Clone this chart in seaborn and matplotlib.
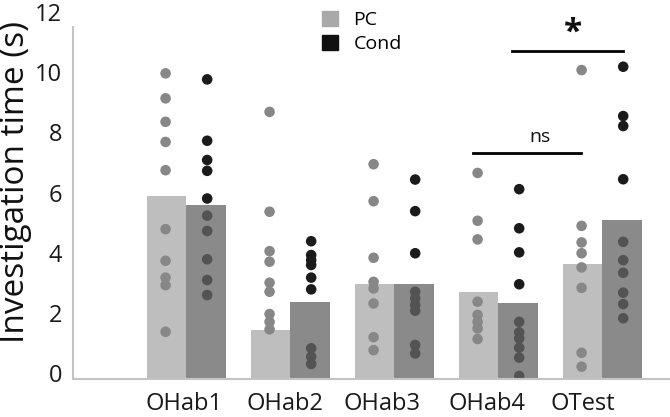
import numpy as np
import pandas as pd
import matplotlib
matplotlib.use("Agg")
import matplotlib.pyplot as plt
import matplotlib.transforms as mtransforms
import seaborn as sns
from matplotlib.patches import Patch

# sessions and groups
sessions = ["OHab1", "OHab2", "OHab3", "OHab4", "OTest"]
groups = ["PC", "Cond"]

# bar heights (s)
bar_pc = [6.09, 1.63, 3.16, 2.90, 3.82]
bar_cond = [5.80, 2.55, 3.16, 2.51, 5.28]

# individual animals (s)
pc_ohab1 = [10.16, 9.33, 8.55, 7.88, 6.94, 4.98, 3.93, 3.37, 3.12, 1.57]
pc_ohab2 = [8.88, 5.56, 4.25, 3.90, 3.20, 2.90, 2.16, 1.90, 1.65]
pc_ohab3 = [7.14, 5.91, 4.03, 3.23, 3.01, 2.51, 1.39, 0.96]
pc_ohab4 = [6.85, 5.26, 4.64, 2.57, 2.13, 1.90, 1.68, 1.33]
pc_otest = [10.27, 5.09, 4.54, 4.18, 3.71, 3.03, 0.87, 0.41]

cond_ohab1 = [9.96, 7.92, 7.28, 6.92, 6.00, 5.43, 4.92, 3.98, 3.29, 2.79]
cond_ohab2 = [4.58, 4.12, 3.95, 3.79, 3.37, 2.98, 1.02, 0.74, 0.50]
cond_ohab3 = [6.63, 5.58, 4.18, 2.90, 2.68, 2.46, 2.27, 1.13, 0.85]
cond_ohab4 = [6.31, 5.01, 4.21, 3.15, 1.90, 1.55, 1.35, 1.04, 0.71, 0.10]
cond_otest = [10.38, 8.74, 8.41, 6.64, 4.56, 3.95, 3.53, 2.87, 2.49, 2.02]

pc_points = [pc_ohab1, pc_ohab2, pc_ohab3, pc_ohab4, pc_otest]
cond_points = [cond_ohab1, cond_ohab2, cond_ohab3, cond_ohab4, cond_otest]

# build tables
bars = pd.DataFrame({
    "session": sessions * 2,
    "group": ["PC"] * 5 + ["Cond"] * 5,
    "time": bar_pc + bar_cond,
})

rows = []
for grp, pts in zip(groups, [pc_points, cond_points]):
    for s, vals in zip(sessions, pts):
        for v in vals:
            rows.append((s, grp, v))
points = pd.DataFrame(rows, columns=["session", "group", "time"])

font = "Open Sans"
plt.rcParams["font.family"] = [font, "DejaVu Sans"]

fig = plt.figure(figsize=(6.7, 4.17), dpi=100)
ax = fig.add_axes([73 / 670, 1 - 379 / 417, 1 - 73 / 670, 361 / 417])

# Cond points sit under the (semi transparent) Cond bars
sns.stripplot(data=points[points["group"] == "Cond"], x="session", y="time",
              hue="group", hue_order=groups, order=sessions, dodge=True,
              jitter=False, palette={"PC": "#878787", "Cond": "#1b1b1b"},
              size=7.6, linewidth=0, legend=False, zorder=1, ax=ax)

sns.barplot(data=bars, x="session", y="time", hue="group", hue_order=groups,
            order=sessions, palette={"PC": "#bebebe", "Cond": "#656565"},
            width=0.76, errorbar=None, legend=False, ax=ax)
for bar in ax.containers[0]:
    bar.set_zorder(2)
    bar.set_edgecolor("none")
for bar in ax.containers[1]:
    bar.set_zorder(2)
    bar.set_alpha(0.76)
    bar.set_edgecolor("none")

# PC points on top of the PC bars
sns.stripplot(data=points[points["group"] == "PC"], x="session", y="time",
              hue="group", hue_order=groups, order=sessions, dodge=True,
              jitter=False, palette={"PC": "#878787", "Cond": "#1b1b1b"},
              size=7.6, linewidth=0, legend=False, zorder=3, ax=ax)

ax.set_xlim(-1.09, 4.65)
ax.set_ylim(0, 12)
ax.set_yticks(range(0, 13, 2))
# session labels sit a little left of their bars, as in the original figure
ax.set_xticks([-0.02, 0.95, 1.88, 2.89, 3.81], sessions)
ax.set_xlabel("")
ax.set_ylabel("Investigation time (s)", fontsize=24, color="#111111")
ax.yaxis.set_label_coords(-0.068, 0.546)

ax.tick_params(axis="both", length=0, labelsize=17, colors="#1a1a1a")
ax.tick_params(axis="y", pad=8)
ax.tick_params(axis="x", pad=9)

# y numbers sit slightly above their ticks
shift = mtransforms.ScaledTranslation(0, 6 / 100, fig.dpi_scale_trans)
for lab in ax.get_yticklabels():
    lab.set_transform(lab.get_transform() + shift)

for side in ["top", "right"]:
    ax.spines[side].set_visible(False)
for side in ["left", "bottom"]:
    ax.spines[side].set_color("#c4c4c4")
    ax.spines[side].set_linewidth(1.5)
ax.spines["left"].set_bounds(0, 11.7)

# significance marks
ax.plot([2.76, 3.79], [7.51, 7.51], color="black", lw=2, zorder=4)
ax.text(3.40, 7.75, "ns", ha="center", va="bottom", fontsize=14, color="#111111")
ax.plot([3.13, 4.20], [10.9, 10.9], color="black", lw=2, zorder=4)
ax.text(3.72, 10.95, "*", ha="center", va="bottom", fontsize=24,
        fontweight="bold", color="#111111")

handles = [Patch(color="#a9a9a9", label="PC"), Patch(color="#111111", label="Cond")]
ax.legend(handles=handles, loc="upper left", bbox_to_anchor=(322 / 670, 1 - 11 / 417),
          bbox_transform=fig.transFigure, frameon=False, fontsize=14,
          handlelength=0.82, handleheight=0.82, handletextpad=0.8,
          labelspacing=0.3, borderpad=0, borderaxespad=0)

fig.savefig("out.png", dpi=100)
